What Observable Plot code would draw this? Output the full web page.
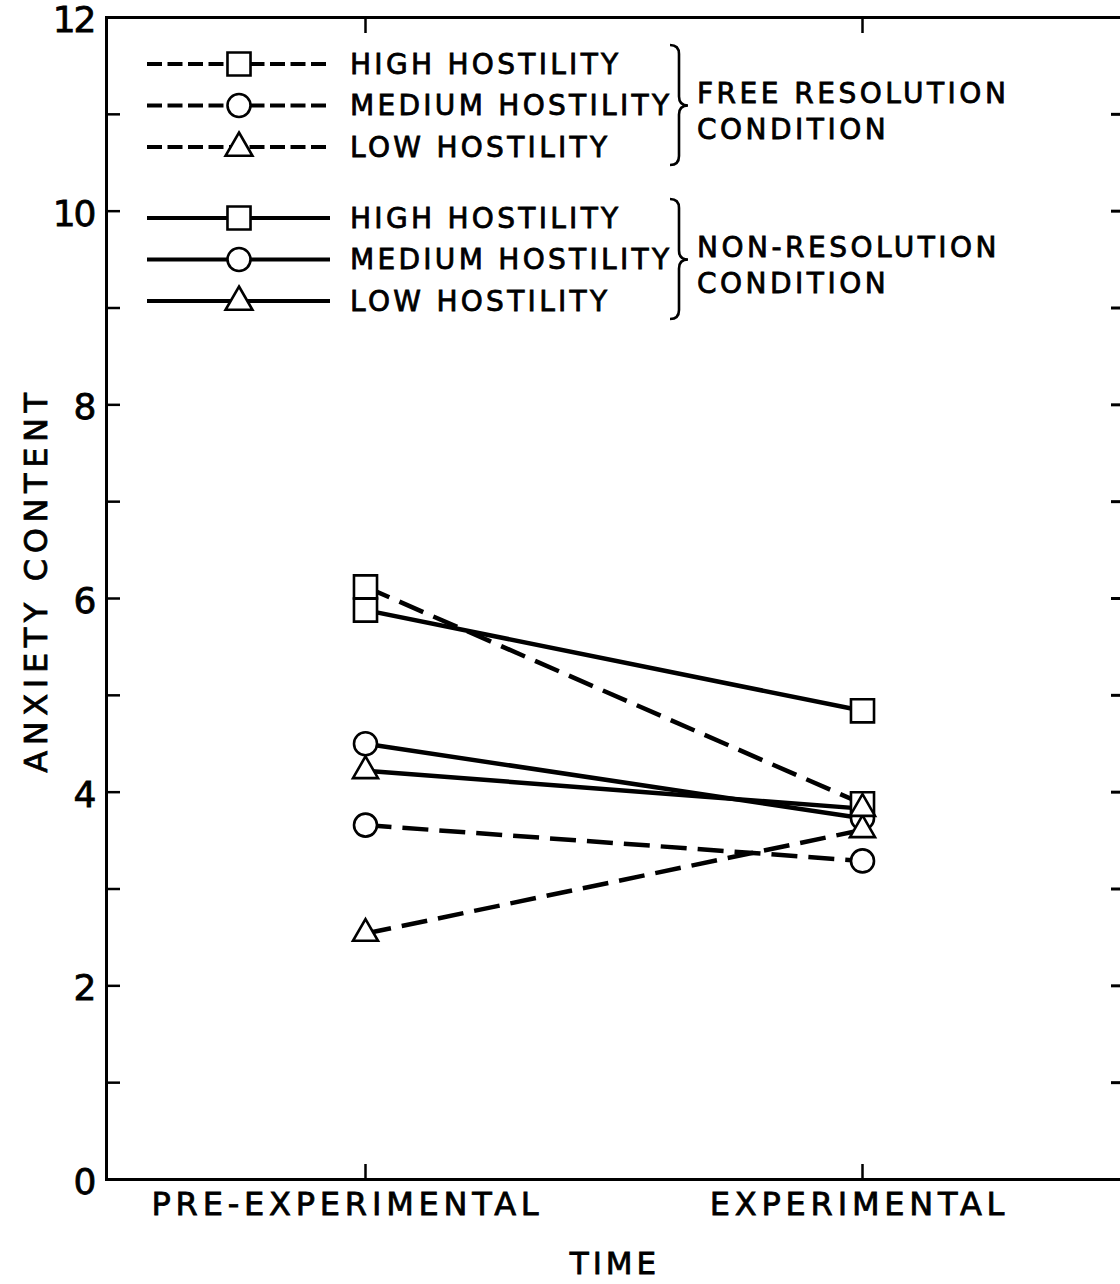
<!DOCTYPE html>
<html>
<head>
<meta charset="utf-8">
<script src="https://cdn.jsdelivr.net/npm/d3@7"></script>
<script src="https://cdn.jsdelivr.net/npm/@observablehq/plot@0.6"></script>
<style>
  html, body { margin: 0; padding: 0; background: #fff; overflow: hidden; }
  svg { display: block; }
</style>
</head>
<body>
<div id="chart"></div>
<script>
// ---- data ----
const times = ["PRE-EXPERIMENTAL", "EXPERIMENTAL"];
const hostilityLevels = ["HIGH", "MEDIUM", "LOW"];
// Free resolution condition (dashed)
const freeHigh = [6.12, 3.88];
const freeMedium = [3.66, 3.29];
const freeLow = [2.54, 3.61];
// Non-resolution condition (solid)
const nonHigh = [5.88, 4.84];
const nonMedium = [4.50, 3.73];
const nonLow = [4.22, 3.83];
const yTicksMajor = [0, 2, 4, 6, 8, 10, 12];
const yTicksAll = [1, 2, 3, 4, 5, 6, 7, 8, 9, 10, 11];
const legendLabels = ["HIGH HOSTILITY", "MEDIUM HOSTILITY", "LOW HOSTILITY"];
const conditionLabels = [["FREE RESOLUTION", "CONDITION"], ["NON-RESOLUTION", "CONDITION"]];

const series = [
  {condition: "free", hostility: "HIGH", values: freeHigh},
  {condition: "free", hostility: "MEDIUM", values: freeMedium},
  {condition: "free", hostility: "LOW", values: freeLow},
  {condition: "non", hostility: "HIGH", values: nonHigh},
  {condition: "non", hostility: "MEDIUM", values: nonMedium},
  {condition: "non", hostility: "LOW", values: nonLow}
];
const rows = series.flatMap(s => s.values.map((v, i) => ({
  condition: s.condition, hostility: s.hostility, key: s.condition + s.hostility, time: times[i], value: v
})));

const FONT = "DejaVu Sans, Liberation Sans, sans-serif";
const symbolOf = {HIGH: "square", MEDIUM: "circle", LOW: "triangle"};
const rOf = {HIGH: 13, MEDIUM: 11.5, LOW: 9.3};

const dotMarks = hostilityLevels.map(h => Plot.dot(rows.filter(d => d.hostility === h), {
  x: "time", y: "value", symbol: symbolOf[h], r: rOf[h], fill: "white", stroke: "black", strokeWidth: 2.6
}));

const svg = Plot.plot({
  width: 1120,
  height: 1284,
  marginLeft: 106,
  marginRight: 0,
  marginTop: 17,
  marginBottom: 105,
  style: {fontFamily: FONT, color: "black", background: "white"},
  x: {type: "point", domain: times, padding: 0.52, label: null},
  y: {domain: [0, 12], label: null},
  marks: [
    Plot.frame({anchor: "left", strokeWidth: 3}),
    Plot.ruleY([0, 12], {strokeWidth: 3}),
    // left ticks (inward)
    Plot.axisY({anchor: "left", ticks: yTicksAll, tickSize: 14, dx: 14, tickFormat: () => "", strokeWidth: 2.5, label: null}),
    // left tick labels
    Plot.axisY({anchor: "left", ticks: yTicksMajor, tickSize: 0, tickPadding: 12, fontSize: 36, fontFamily: FONT, tickFormat: d3.format("d"), label: null, dy: 3}),
    // right ticks (inward)
    Plot.axisY({anchor: "right", ticks: yTicksAll, tickSize: 10, dx: -10, tickFormat: () => "", strokeWidth: 3, label: null}),
    // bottom ticks (inward) and labels
    Plot.axisX({anchor: "bottom", tickSize: 15, dy: -15, tickFormat: () => "", strokeWidth: 2.5, label: null}),
    Plot.axisX({anchor: "bottom", ticks: [times[0]], tickSize: 0, tickPadding: 13, fontSize: 32, fontFamily: FONT, label: null, dx: -18}),
    Plot.axisX({anchor: "bottom", ticks: [times[1]], tickSize: 0, tickPadding: 13, fontSize: 32, fontFamily: FONT, label: null, dx: -3}),
    // top ticks (inward)
    Plot.axisX({anchor: "top", tickSize: 15, dy: 15, tickFormat: () => "", strokeWidth: 2.5, label: null}),
    // lines
    Plot.line(rows.filter(d => d.condition === "free"), {x: "time", y: "value", z: "key", stroke: "black", strokeWidth: 4.5, strokeDasharray: "26,11", strokeLinecap: "butt"}),
    Plot.line(rows.filter(d => d.condition === "non"), {x: "time", y: "value", z: "key", stroke: "black", strokeWidth: 4.5}),
    ...dotMarks
  ]
});

const root = d3.select(svg);
root.selectAll("g[aria-label='x-axis tick label'] text").attr("letter-spacing", "4.8px");
root.selectAll("g[aria-label='y-axis tick label'] text").attr("letter-spacing", "-2px");

// axis titles
root.append("text")
  .attr("x", 615).attr("y", 1263)
  .attr("text-anchor", "middle").attr("dominant-baseline", "central")
  .attr("font-family", FONT).attr("font-size", 31).attr("letter-spacing", "4px")
  .text("TIME");
root.append("text")
  .attr("transform", "translate(36,580) rotate(-90)")
  .attr("text-anchor", "middle").attr("dominant-baseline", "central")
  .attr("font-family", FONT).attr("font-size", 32).attr("letter-spacing", "5.6px")
  .text("ANXIETY CONTENT");

// legend
const legend = root.append("g").attr("class", "legend");
const blockTops = [64, 218];
const rowGap = 41.5;
["free", "non"].forEach((cond, b) => {
  hostilityLevels.forEach((h, i) => {
    const y = blockTops[b] + i * rowGap;
    legend.append("line")
      .attr("x1", 147).attr("x2", 330).attr("y1", y).attr("y2", y)
      .attr("stroke", "black").attr("stroke-width", 4)
      .attr("stroke-dasharray", cond === "free" ? "15,5.5" : null);
    legend.append("path")
      .attr("transform", `translate(239,${y + (h === "LOW" ? 1 : 0)})`)
      .attr("d", d3.symbol(d3["symbol" + symbolOf[h][0].toUpperCase() + symbolOf[h].slice(1)], rOf[h] * rOf[h] * Math.PI * (h === "LOW" ? 1.15 : 1))())
      .attr("fill", "white").attr("stroke", "black").attr("stroke-width", 2.6);
    legend.append("text")
      .attr("x", 350).attr("y", y)
      .attr("text-anchor", "start")
      .attr("dominant-baseline", "central")
      .attr("font-family", FONT).attr("font-size", 28).attr("letter-spacing", "3.3px")
      .text(legendLabels[i]);
  });
  // brace
  const top = blockTops[b] - 19, bot = blockTops[b] + 2 * rowGap + 18, mid = blockTops[b] + rowGap;
  const bx = 679, tipX = 688, c = 9;
  legend.append("path")
    .attr("d", `M${bx - 9},${top} Q${bx},${top} ${bx},${top + c} L${bx},${mid - c} Q${bx},${mid} ${tipX},${mid} Q${bx},${mid} ${bx},${mid + c} L${bx},${bot - c} Q${bx},${bot} ${bx - 9},${bot}`)
    .attr("fill", "none").attr("stroke", "black").attr("stroke-width", 2.6);
  conditionLabels[b].forEach((t, k) => {
    legend.append("text")
      .attr("x", 697).attr("y", mid - 12 + k * 36)
      .attr("text-anchor", "start")
      .attr("dominant-baseline", "central")
      .attr("font-family", FONT).attr("font-size", 28).attr("letter-spacing", "3.5px")
      .text(t);
  });
});

// heavier lettering like the original
root.selectAll("text").attr("fill", "black").attr("stroke", "black").attr("stroke-width", 0.8);

document.getElementById("chart").appendChild(svg);
</script>
</body>
</html>
